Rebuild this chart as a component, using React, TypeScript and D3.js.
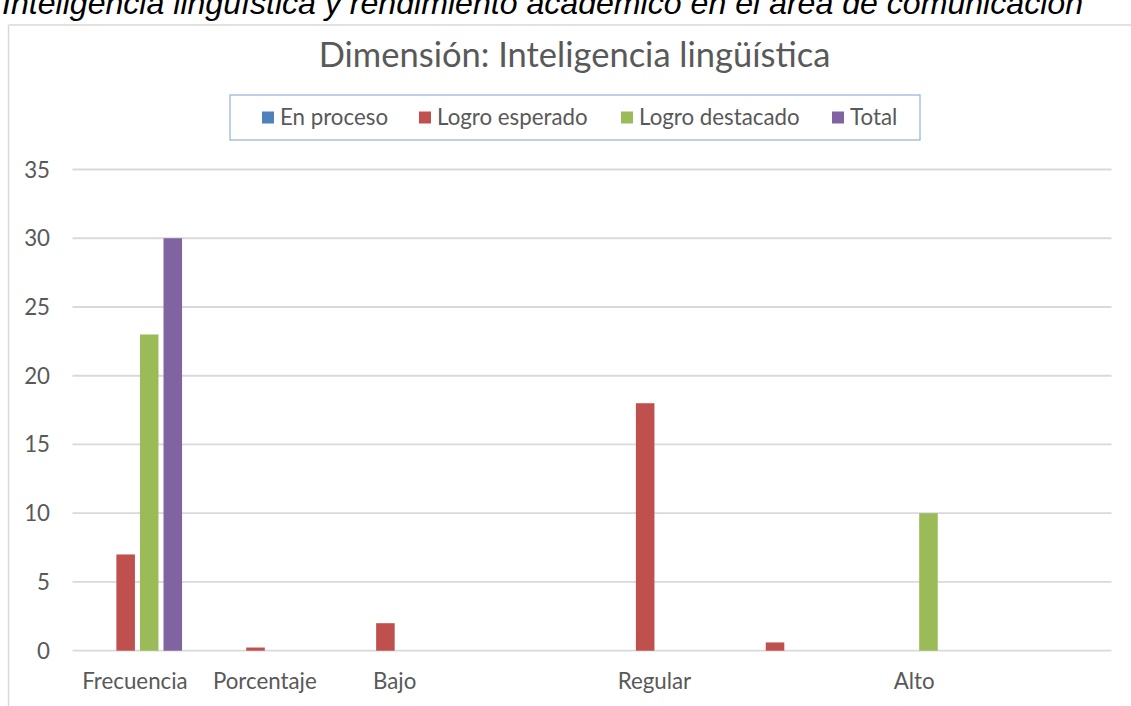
import React from "react";
import * as d3 from "d3";

const categories = ["Frecuencia", "Porcentaje", "Bajo", "", "Regular", "", "Alto", ""];
const seriesNames = ["En proceso", "Logro esperado", "Logro destacado", "Total"];
const enProceso = [0, 0, 0, 0, 0, 0, 0, 0];
const logroEsperado = [7, 0.23, 2, 0, 18, 0.6, 0, 0];
const logroDestacado = [23, 0, 0, 0, 0, 0, 10, 0];
const total = [30, 0, 0, 0, 0, 0, 0, 0];
const seriesColors = ["#4f81bd", "#c0504d", "#9bbb59", "#8064a2"];
const yTicks = [0, 5, 10, 15, 20, 25, 30, 35];
const heading = "Inteligencia lingüística y rendimiento académico en el área de comunicación";
const chartTitle = "Dimensión: Inteligencia lingüística";

export default function App() {
  const W = 1131;
  const H = 706;
  const plot = { left: 72.5, right: 1111.5, top: 169.5, bottom: 650.7 };
  const idx = categories.map((_, i) => i);
  const x0 = d3.scaleBand<number>().domain(idx).range([plot.left, plot.right]);
  const bw = x0.bandwidth();
  const w = bw / 7.0;
  const x1 = d3
    .scaleBand<number>()
    .domain([0, 1, 2, 3])
    .range([1.095 * w, bw - 1.095 * w])
    .paddingInner(0.27 / 1.27);
  const y = d3.scaleLinear().domain([0, 35]).range([plot.bottom, plot.top]);
  const data = [enProceso, logroEsperado, logroDestacado, total];
  const font = "Lato, 'Open Sans', sans-serif";
  const textColor = "#595959";
  const borderTop = 25;
  const legendBox = { x: 230, y: 95, w: 690, h: 45 };
  const legendX = [262, 419, 621, 832];
  const sq = 12;

  return (
    <svg
      width={W}
      height={H}
      style={{ position: "absolute", left: 0, top: 0, background: "#fff" }}
    >
      <rect x={0} y={0} width={W} height={H} fill="#fff" />
      <text
        x={2}
        y={14}
        fontFamily="'Liberation Sans', Arial, sans-serif"
        fontStyle="italic"
        fontSize={32}
        fill="#000"
        textLength={1081}
        lengthAdjust="spacingAndGlyphs"
      >
        {heading}
      </text>
      <line x1={8.5} y1={borderTop} x2={8.5} y2={H} stroke="#d9d9d9" strokeWidth={1.5} />
      <line x1={8.5} y1={borderTop} x2={W} y2={borderTop} stroke="#d9d9d9" strokeWidth={1.5} />

      <text
        x={574.5}
        y={67}
        textAnchor="middle"
        fontFamily={font}
        fontSize={34.5}
        fill={textColor}
      >
        {chartTitle}
      </text>

      <rect
        x={legendBox.x}
        y={legendBox.y}
        width={legendBox.w}
        height={legendBox.h}
        fill="none"
        stroke="#9bb7d9"
        strokeWidth={1.3}
      />
      {seriesNames.map((s, i) => (
        <g key={s}>
          <rect x={legendX[i]} y={111.5} width={sq} height={sq} fill={seriesColors[i]} />
          <text
            x={legendX[i] + 18}
            y={125}
            fontFamily={font}
            fontSize={22.3}
            fill={textColor}
          >
            {s}
          </text>
        </g>
      ))}

      {yTicks.map((t) => (
        <g key={t}>
          <line
            x1={plot.left}
            x2={plot.right}
            y1={y(t)}
            y2={y(t)}
            stroke="#d9d9d9"
            strokeWidth={1.8}
          />
          <text
            x={50}
            y={y(t)}
            dy="0.36em"
            textAnchor="end"
            fontFamily={font}
            fontSize={22.3}
            fill={textColor}
          >
            {t}
          </text>
        </g>
      ))}

      {data.map((series, s) =>
        series.map((v, i) =>
          v > 0 ? (
            <rect
              key={`${s}-${i}`}
              x={(x0(i) as number) + (x1(s) as number)}
              y={y(v)}
              width={x1.bandwidth()}
              height={y(0) - y(v)}
              fill={seriesColors[s]}
            />
          ) : null
        )
      )}

      {categories.map((c, i) =>
        c ? (
          <text
            key={i}
            x={(x0(i) as number) + bw / 2 - 2.5}
            y={689}
            textAnchor="middle"
            fontFamily={font}
            fontSize={22.3}
            fill={textColor}
          >
            {c}
          </text>
        ) : null
      )}
    </svg>
  );
}
